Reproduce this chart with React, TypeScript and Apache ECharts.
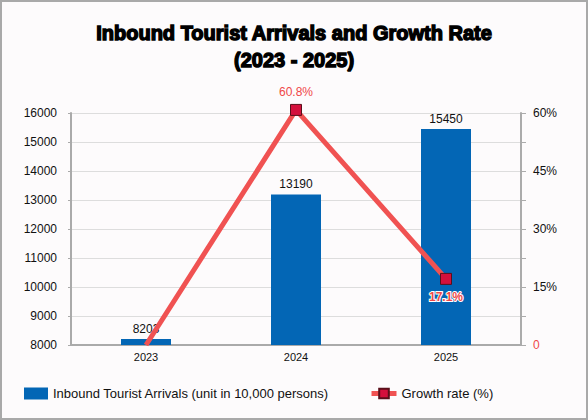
import { useEffect, useRef } from 'react';
import * as echarts from 'echarts';

const years = ['2023', '2024', '2025'];
const arrivals = [8203, 13190, 15450];
const growthRate = [0, 60.8, 17.1];

const BAR_NAME = 'Inbound Tourist Arrivals (unit in 10,000 persons)';
const LINE_NAME = 'Growth rate (%)';

export default function App() {
  const ref = useRef<HTMLDivElement>(null);

  useEffect(() => {
    document.body.style.margin = '0';
    if (!ref.current) return;
    const chart = echarts.init(ref.current, undefined, { renderer: 'svg' });
    chart.setOption({
      animation: false,
      backgroundColor: '#fdfbfc',
      title: {
        text: 'Inbound Tourist Arrivals and Growth Rate\n(2023 - 2025)',
        left: 'center',
        top: 12,
        textStyle: {
          fontFamily: 'Liberation Sans',
          fontWeight: 'bold',
          fontSize: 20,
          lineHeight: 27,
          color: '#000',
          textBorderColor: '#000',
          textBorderWidth: 1.4,
        },
      },
      legend: [
        {
          data: [BAR_NAME],
          icon: 'rect',
          left: 17,
          top: 380,
          itemWidth: 24,
          itemHeight: 12,
          textStyle: { fontFamily: 'Liberation Sans', fontSize: 13, color: '#111' },
        },
        {
          data: [LINE_NAME],
          left: 362,
          top: 380,
          itemWidth: 25,
          itemHeight: 12,
          lineStyle: { width: 5, color: '#f05252' },
          textStyle: { fontFamily: 'Liberation Sans', fontSize: 13, color: '#111' },
        },
      ],
      grid: { left: 69, right: 65, top: 111, bottom: 73 },
      xAxis: {
        type: 'category',
        data: years,
        axisLine: { lineStyle: { color: '#aaaaaa', width: 2 } },
        axisTick: { show: false },
        axisLabel: { color: '#111', fontFamily: 'Liberation Sans', fontSize: 11, margin: 6 },
      },
      yAxis: [
        {
          type: 'value',
          min: 8000,
          max: 16000,
          interval: 1000,
          axisLine: { show: true, lineStyle: { color: '#aaaaaa', width: 2 } },
          axisTick: { show: true, length: 3, lineStyle: { color: '#aaaaaa' } },
          splitLine: { lineStyle: { color: '#dddddd' } },
          axisLabel: {
            color: '#111',
            fontFamily: 'Liberation Sans',
            fontSize: 12,
            margin: 14,
            formatter: (v: number) => String(v),
          },
        },
        {
          type: 'value',
          min: 0,
          max: 60,
          interval: 7.5,
          position: 'right',
          axisLine: { show: true, onZero: false, lineStyle: { color: '#ababab', width: 2 } },
          axisTick: { show: true, length: 5, lineStyle: { color: '#ababab' } },
          splitLine: { show: false },
          axisLabel: {
            fontFamily: 'Liberation Sans',
            fontSize: 12,
            margin: 12,
            color: '#111',
            formatter: (v: number) => (v === 0 ? '{zero|0}' : v % 15 === 0 ? v + '%' : ''),
            rich: {
              zero: { color: '#f04848', fontFamily: 'Liberation Sans', fontSize: 12 },
            },
          },
        },
      ],
      series: [
        {
          name: BAR_NAME,
          type: 'bar',
          data: arrivals,
          barWidth: 50,
          itemStyle: { color: '#0366b5' },
          label: {
            show: true,
            position: 'top',
            color: '#111',
            fontFamily: 'Liberation Sans',
            fontSize: 12,
            distance: 4,
          },
        },
        {
          name: LINE_NAME,
          type: 'line',
          yAxisIndex: 1,
          clip: false,
          data: growthRate.map((v, i) =>
            i === 0
              ? { value: v, symbol: 'none', label: { show: false } }
              : i === 1
              ? { value: v, label: { position: 'top' } }
              : {
                  value: v,
                  label: {
                    position: 'bottom',
                    fontWeight: 'bold',
                    textBorderColor: '#fff',
                    textBorderWidth: 2,
                  },
                }
          ),
          symbol: 'rect',
          symbolSize: 11,
          lineStyle: { color: '#f05252', width: 5 },
          itemStyle: { color: '#d4103c', borderColor: '#5a0f1a', borderWidth: 1 },
          label: {
            show: true,
            formatter: '{c}%',
            color: '#f04848',
            fontFamily: 'Liberation Sans',
            fontSize: 12,
            distance: 6,
          },
          z: 5,
        },
      ],
    });
    return () => chart.dispose();
  }, []);

  return (
    <div style={{ width: 588, height: 420, border: '2px solid #a9a9a9', boxSizing: 'border-box' }}>
      <div ref={ref} style={{ width: 584, height: 416 }} />
    </div>
  );
}
